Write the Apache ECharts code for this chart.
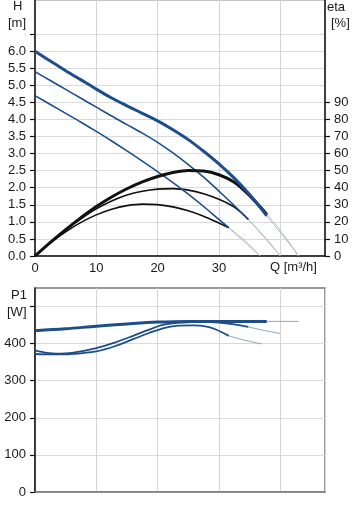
<!DOCTYPE html>
<html><head><meta charset="utf-8">
<script src="https://cdn.jsdelivr.net/npm/echarts@6/dist/echarts.min.js"></script>
<style>html,body{margin:0;padding:0;background:#fff}#c{width:357px;height:512px}</style>
</head><body><div id="c"></div>
<script>
// ---- Data ----
// Head curves H [m] vs Q [m3/h]
const h1Q = [0, 2.5, 5, 7.5, 10, 12.5, 15, 17.5, 20, 22.5, 25, 27.5, 30, 32.5, 35, 37.8];
const h1  = [6.0, 5.71, 5.43, 5.16, 4.89, 4.63, 4.40, 4.18, 3.96, 3.70, 3.41, 3.07, 2.70, 2.28, 1.80, 1.18];
const h2Q = [0, 2.5, 5, 7.5, 10, 12.5, 15, 17.5, 20, 22.5, 25, 27.5, 30, 32.5, 34.8];
const h2  = [5.4, 5.14, 4.88, 4.62, 4.36, 4.10, 3.85, 3.60, 3.33, 3.02, 2.68, 2.31, 1.90, 1.48, 1.07];
const h3Q = [0, 2.5, 5, 7.5, 10, 12.5, 15, 17.5, 20, 22.5, 25, 27.5, 30, 31.6];
const h3  = [4.7, 4.44, 4.18, 3.92, 3.65, 3.37, 3.08, 2.78, 2.47, 2.15, 1.81, 1.45, 1.07, 0.83];
// Head extensions (outside operating range)
const h1xQ = [37.8, 39.5, 41, 42, 43];
const h1x  = [1.18, 0.80, 0.47, 0.24, 0];
const h2xQ = [34.8, 36.5, 38, 40];
const h2x  = [1.07, 0.73, 0.42, 0];
const h3xQ = [31.6, 33, 34.5, 36.7];
const h3x  = [0.83, 0.59, 0.36, 0];
// Efficiency eta [%]
const e1Q = [0, 2.5, 5, 7.5, 10, 12.5, 15, 17.5, 20, 22.5, 25, 27.5, 30, 32.5, 35, 37.8];
const e1  = [0, 8, 15.5, 22.5, 29, 34.6, 39.4, 43.4, 46.6, 48.9, 50.1, 49.8, 47.6, 43.2, 35.4, 24.5];
const e2Q = [0, 2.5, 5, 7.5, 10, 12.5, 15, 17.5, 20, 22.5, 25, 27.5, 30, 32.5, 34.8];
const e2  = [0, 8, 15.3, 21.8, 27.6, 32.2, 35.7, 37.9, 39.2, 39.5, 38.6, 36.5, 33.2, 28.6, 21.4];
const e3Q = [0, 2.5, 5, 7.5, 10, 12.5, 15, 17.5, 20, 22.5, 25, 27.5, 30, 31.6];
const e3  = [0, 7.6, 14.2, 19.7, 24.1, 27.4, 29.5, 30.4, 30.1, 28.8, 26.5, 23.3, 19.3, 16.6];
const e1xQ = [37.8, 39.5, 41, 43];
const e1x  = [24.5, 17.3, 10.2, 0];
const e2xQ = [34.8, 36.5, 38, 40];
const e2x  = [21.4, 15, 9, 0];
const e3xQ = [31.6, 33, 34.5, 36.7];
const e3x  = [16.6, 12.7, 8.2, 0];
// Power P1 [W]
const p1Q = [0, 5, 10, 15, 20, 25, 30, 35, 37.8];
const p1  = [435, 440, 447, 453, 458, 460, 460, 460, 460];
const p2Q = [0, 2, 3.5, 6, 10, 13, 16, 18.5, 21, 24, 27, 30, 32.5, 34.8];
const p2  = [382, 375, 373, 375, 388, 403, 421, 437, 451, 457, 459, 457, 452, 445];
const p3Q = [0, 2.5, 5, 7.5, 10, 13, 16, 18.5, 21, 23, 25.8, 28, 29.5, 31.6];
const p3  = [372, 371, 371, 374, 379, 393, 412, 428, 442, 448, 449, 446, 438, 421];
const p1xQ = [37.8, 40, 43];
const p1x  = [460, 460, 460];
const p2xQ = [34.8, 37, 40];
const p2x  = [445, 437, 427];
const p3xQ = [31.6, 34, 37];
const p3x  = [421, 410, 399];
// Axis tick labels
const qLabels = [0, 10, 20, 30];
const hLabels = [0, 0.5, 1, 1.5, 2, 2.5, 3, 3.5, 4, 4.5, 5, 5.5, 6];
const hTicks = hLabels.concat([6.5]);
const etaLabels = [0, 10, 20, 30, 40, 50, 60, 70, 80, 90];
const pLabels = [0, 100, 200, 300, 400];
const pTicks = pLabels.concat([500]);

const zip = (a, b) => a.map((x, i) => [x, b[i]]);

const BLUE = '#1d4e89';
const GRAY = '#b3bcc6';
const PGRAY = '#8ea2b8';
const F = 'Liberation Sans, Arial, sans-serif';
const TXT = '#1a1a1a';

function line(data, color, width, xi, yi, z) {
  return { type: 'line', data: data, xAxisIndex: xi, yAxisIndex: yi, smooth: 0.35,
    symbol: 'none', lineStyle: { color: color, width: width }, z: z || 2,
    silent: true, animation: false };
}

const chart = echarts.init(document.getElementById('c'), null, { renderer: 'canvas' });
chart.setOption({
  animation: false,
  backgroundColor: '#fff',
  textStyle: { fontFamily: F },
  grid: [
    { left: 35, right: 32, top: 0, height: 256, show: true, borderColor: '#8a8a8a', borderWidth: 1 },
    { left: 35, right: 32, top: 288, height: 204, show: true, borderColor: '#7a7a7a', borderWidth: 1.5 }
  ],
  xAxis: [
    { gridIndex: 0, type: 'value', min: 0, max: 47.3, interval: 10,
      axisLine: { show: true, lineStyle: { color: '#111', width: 1.5 } },
      axisTick: { show: false },
      axisLabel: { customValues: qLabels, color: TXT, fontSize: 13, fontFamily: F, margin: 6 },
      splitLine: { show: true, lineStyle: { color: '#d4d4d4', width: 1 } } },
    { gridIndex: 1, type: 'value', min: 0, max: 47.3, interval: 10,
      axisLine: { show: true, lineStyle: { color: '#7a7a7a', width: 1.5 } },
      axisTick: { show: false },
      axisLabel: { show: false },
      splitLine: { show: true, lineStyle: { color: '#d4d4d4', width: 1 } } }
  ],
  yAxis: [
    { gridIndex: 0, type: 'value', min: 0, max: 7.5, interval: 0.5,
      axisLine: { show: true, lineStyle: { color: '#111', width: 1.5 } },
      axisTick: { show: true, length: 5, customValues: hTicks, lineStyle: { color: '#111', width: 1.2 } },
      axisLabel: { customValues: hLabels, formatter: v => v.toFixed(1), color: TXT, fontSize: 13, fontFamily: F, margin: 9 },
      splitLine: { show: true, lineStyle: { color: '#d9d9d9', width: 1 } } },
    { gridIndex: 0, type: 'value', position: 'right', min: 0, max: 150, interval: 10,
      axisLine: { show: true, lineStyle: { color: '#111', width: 1.5 } },
      axisTick: { show: true, length: 5, customValues: etaLabels, lineStyle: { color: '#111', width: 1.2 } },
      axisLabel: { customValues: etaLabels, color: TXT, fontSize: 13, fontFamily: F, margin: 9 },
      splitLine: { show: false } },
    { gridIndex: 1, type: 'value', min: 0, max: 550, interval: 100,
      axisLine: { show: true, lineStyle: { color: '#111', width: 1.5 } },
      axisTick: { show: true, length: 5, customValues: pTicks, lineStyle: { color: '#111', width: 1.2 } },
      axisLabel: { customValues: pLabels, color: TXT, fontSize: 13, fontFamily: F, margin: 9 },
      splitLine: { show: true, lineStyle: { color: '#d9d9d9', width: 1 } } }
  ],
  graphic: [
    { type: 'text', left: 13, top: 0, style: { text: 'H', font: '13px ' + F, fill: TXT } },
    { type: 'text', left: 8, top: 17, style: { text: '[m]', font: '13px ' + F, fill: TXT } },
    { type: 'text', left: 327, top: 1, style: { text: 'eta', font: '13px ' + F, fill: TXT } },
    { type: 'text', left: 331, top: 17, style: { text: '[%]', font: '13px ' + F, fill: TXT } },
    { type: 'text', left: 270, top: 261, style: { text: 'Q [m³/h]', font: '13px ' + F, fill: TXT } },
    { type: 'text', left: 11, top: 289, style: { text: 'P1', font: '13px ' + F, fill: TXT } },
    { type: 'text', left: 7, top: 306, style: { text: '[W]', font: '13px ' + F, fill: TXT } }
  ],
  series: [
    line(zip(h1xQ, h1x), GRAY, 1, 0, 0, 1),
    line(zip(h2xQ, h2x), GRAY, 1, 0, 0, 1),
    line(zip(h3xQ, h3x), GRAY, 1, 0, 0, 1),
    line(zip(e1xQ, e1x), GRAY, 1, 0, 1, 1),
    line(zip(e2xQ, e2x), GRAY, 1, 0, 1, 1),
    line(zip(e3xQ, e3x), GRAY, 1, 0, 1, 1),
    line(zip(e3Q, e3), '#111', 1.6, 0, 1),
    line(zip(e2Q, e2), '#111', 1.6, 0, 1),
    line(zip(e1Q, e1), '#111', 3, 0, 1, 3),
    line(zip(h3Q, h3), BLUE, 1.6, 0, 0),
    line(zip(h2Q, h2), BLUE, 1.6, 0, 0),
    line(zip(h1Q, h1), BLUE, 3, 0, 0, 4),
    line(zip(p1xQ, p1x), PGRAY, 1, 1, 2, 1),
    line(zip(p2xQ, p2x), PGRAY, 1, 1, 2, 1),
    line(zip(p3xQ, p3x), PGRAY, 1, 1, 2, 1),
    line(zip(p3Q, p3), BLUE, 1.8, 1, 2),
    line(zip(p2Q, p2), BLUE, 1.8, 1, 2),
    line(zip(p1Q, p1), BLUE, 3, 1, 2, 3)
  ]
});
</script>
</body></html>
